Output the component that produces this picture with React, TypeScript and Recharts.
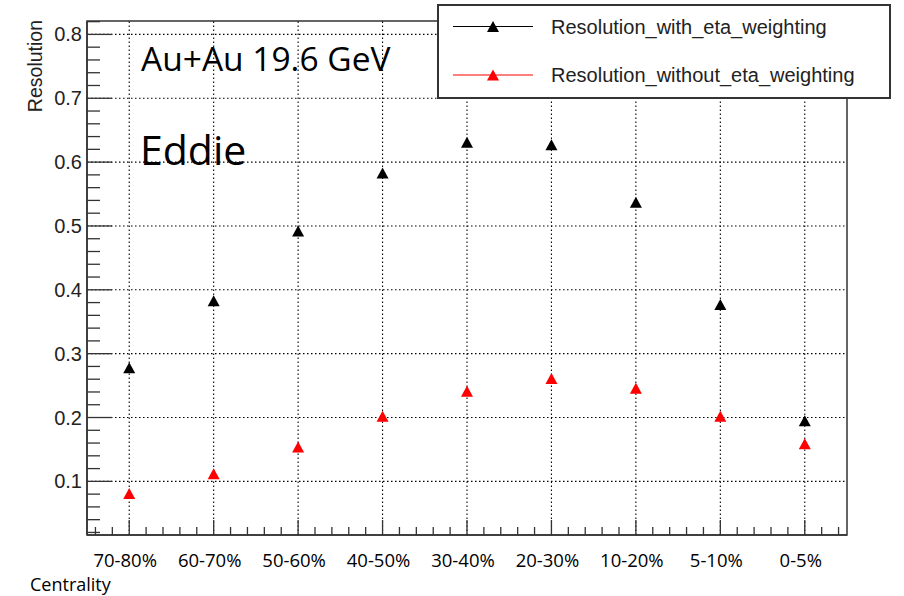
import React from 'react';
import { ScatterChart, Scatter, XAxis, YAxis, ReferenceLine, ReferenceArea } from 'recharts';

const categories = ['70-80%', '60-70%', '50-60%', '40-50%', '30-40%', '20-30%', '10-20%', '5-10%', '0-5%'];
const withEta = [0.278, 0.383, 0.492, 0.583, 0.631, 0.627, 0.537, 0.377, 0.195];
const withoutEta = [0.081, 0.112, 0.154, 0.202, 0.241, 0.261, 0.246, 0.202, 0.159];
const seriesNames = ['Resolution_with_eta_weighting', 'Resolution_without_eta_weighting'];
const seriesColors = ['#000000', '#ff0000'];
const yMajorTicks = [0.1, 0.2, 0.3, 0.4, 0.5, 0.6, 0.7, 0.8];

const yDomain: [number, number] = [0.016, 0.821];
const xDomain: [number, number] = [-0.5, 8.5];

// minor ticks like ROOT: y every 0.02, x every 1/5 of a bin
const yTicks = Array.from({ length: 41 }, (_, i) => +(0.02 + i * 0.02).toFixed(2));
const xTicks = Array.from({ length: 45 }, (_, i) => +(-0.4 + i * 0.2).toFixed(1));

const withData = categories.map((c, i) => ({ x: i, y: withEta[i], cat: c }));
const withoutData = categories.map((c, i) => ({ x: i, y: withoutEta[i], cat: c }));

const AXIS = '#333';
const ROOT_FONT = '"Liberation Sans", Arial, sans-serif';
const PPT_FONT = '"Open Sans", sans-serif';

const Triangle = ({ cx, cy, fill }: any) => (
  <path d={`M${cx},${cy - 5.5}L${cx + 6},${cy + 5.5}L${cx - 6},${cy + 5.5}Z`} fill={fill} />
);

const YTick = ({ x, y, payload }: any) => {
  const v = payload.value;
  const major = Math.abs(v * 10 - Math.round(v * 10)) < 1e-6;
  return (
    <g>
      <line x1={x} x2={x + (major ? 25 : 13)} y1={y} y2={y} stroke={AXIS} strokeWidth={1.3} />
      {major && (
        <text x={x - 5} y={y + 7} textAnchor="end" fontSize={20} fontFamily={ROOT_FONT} fill="#222">
          {v.toFixed(1)}
        </text>
      )}
    </g>
  );
};

const XTick = ({ x, y, payload }: any) => {
  const v = payload.value;
  const major = Math.abs(v - Math.round(v)) < 1e-6;
  return (
    <g>
      <line x1={x} x2={x} y1={y} y2={y - (major ? 15 : 8)} stroke={AXIS} strokeWidth={1.3} />
      {major && (
        <text x={x - 4} y={y + 32} textAnchor="middle" fontSize={18.5} fontFamily={PPT_FONT} fill="#000">
          {categories[Math.round(v)]}
        </text>
      )}
    </g>
  );
};

export default function App() {
  return (
    <div style={{ position: 'absolute', left: 0, top: 0, width: 904, height: 596, background: '#fff' }}>
      <ScatterChart width={904} height={596} margin={{ top: 21, right: 57, bottom: 21, left: 27 }}>
        {yMajorTicks.map((t) => (
          <ReferenceLine key={'h' + t} y={t} stroke="#000" strokeWidth={1.1} strokeDasharray="1.5 2.5" />
        ))}
        {categories.map((c, i) => (
          <ReferenceLine key={'v' + c} x={i} stroke="#000" strokeWidth={1.1} strokeDasharray="1.5 2.5" />
        ))}
        <XAxis
          type="number"
          dataKey="x"
          domain={xDomain}
          allowDataOverflow
          ticks={xTicks}
          interval={0}
          tick={<XTick />}
          tickLine={false}
          tickSize={0}
          tickMargin={0}
          axisLine={{ stroke: AXIS, strokeWidth: 1.5 }}
          height={40}
        />
        <YAxis
          type="number"
          dataKey="y"
          domain={yDomain}
          allowDataOverflow
          ticks={yTicks}
          interval={0}
          tick={<YTick />}
          tickLine={false}
          tickSize={0}
          tickMargin={0}
          axisLine={{ stroke: AXIS, strokeWidth: 1.5 }}
          width={60}
        />
        <ReferenceArea
          x1={xDomain[0]}
          x2={xDomain[1]}
          y1={yDomain[0]}
          y2={yDomain[1]}
          fill="none"
          fillOpacity={0}
          stroke={AXIS}
          strokeWidth={1.5}
        />
        <Scatter
          name={seriesNames[0]}
          data={withData}
          fill={seriesColors[0]}
          shape={<Triangle />}
          isAnimationActive={false}
        />
        <Scatter
          name={seriesNames[1]}
          data={withoutData}
          fill={seriesColors[1]}
          shape={<Triangle />}
          isAnimationActive={false}
        />
      </ScatterChart>

      <svg
        width={904}
        height={596}
        style={{ position: 'absolute', left: 0, top: 0, pointerEvents: 'none' }}
      >
        <text
          x={42}
          y={20}
          transform="rotate(-90 42 20)"
          textAnchor="end"
          fontSize={19.5}
          fontFamily={ROOT_FONT}
          fill="#222"
        >
          Resolution
        </text>
        <text x={30} y={591} fontSize={18} fontFamily={PPT_FONT} fill="#000">
          Centrality
        </text>
        <text x={141} y={71} fontSize={33.5} fontFamily={PPT_FONT} fill="#000">
          Au+Au 19.6 GeV
        </text>
        <text x={140} y={165} fontSize={41} fontFamily={PPT_FONT} fill="#000">
          Eddie
        </text>

        <rect x={438} y={5} width={452} height={93} fill="#fff" stroke={AXIS} strokeWidth={2} />
        {seriesNames.map((name, i) => {
          const cy = 26.5 + i * 48.5;
          return (
            <g key={name}>
              <line x1={453} x2={533} y1={cy} y2={cy} stroke={seriesColors[i]} strokeWidth={1.2} />
              <Triangle cx={493} cy={cy} fill={seriesColors[i]} />
              <text x={551} y={cy + 7} fontSize={20} fontFamily={ROOT_FONT} fill="#222">
                {name}
              </text>
            </g>
          );
        })}
      </svg>
    </div>
  );
}
